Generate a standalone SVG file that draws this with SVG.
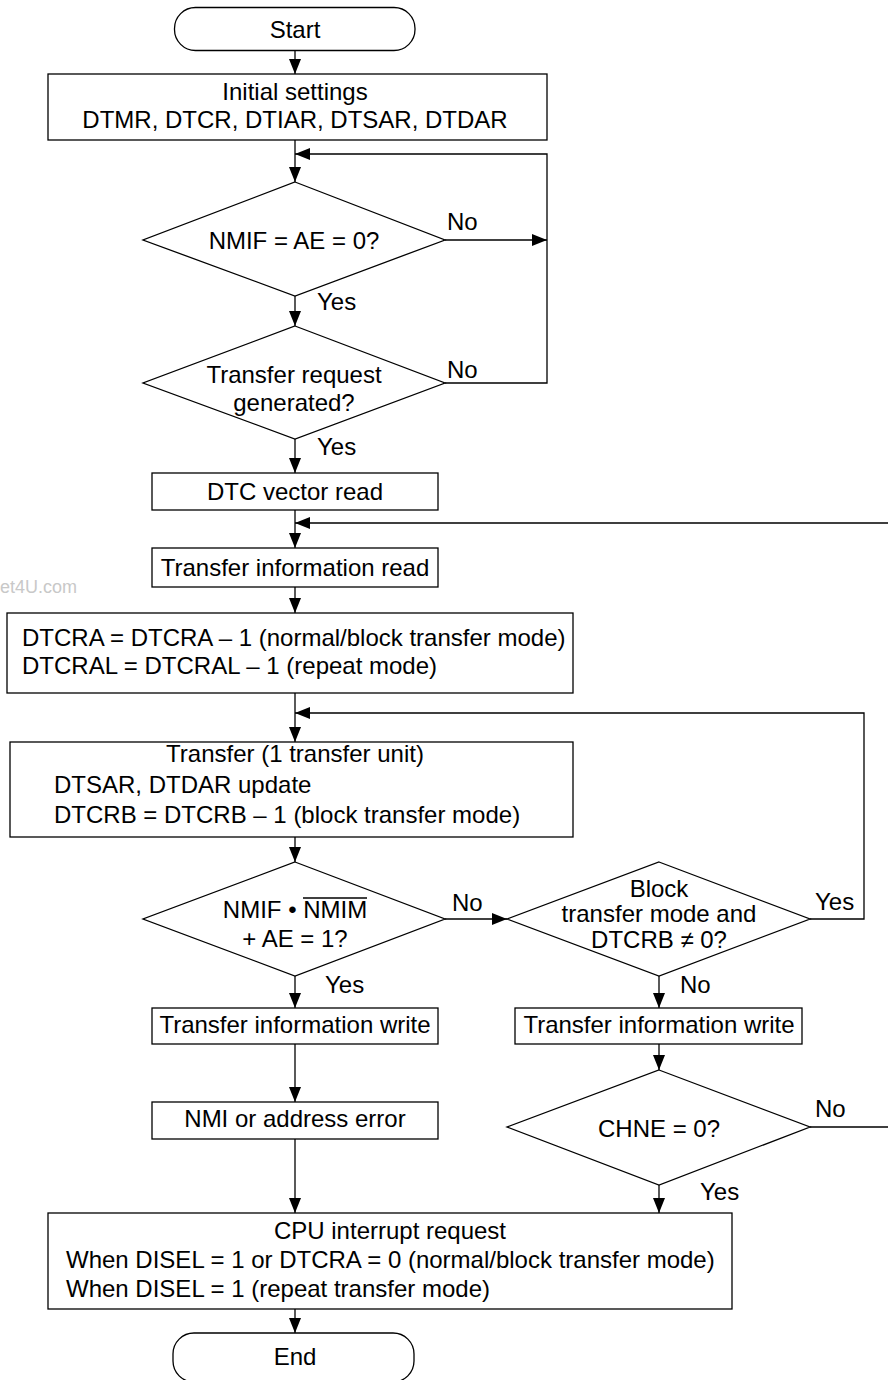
<svg xmlns="http://www.w3.org/2000/svg" width="888" height="1380" viewBox="0 0 888 1380">
<style>
.s{fill:#fff;stroke:#000;stroke-width:1.3}
.c{fill:none;stroke:#000;stroke-width:1.3}
text{font-family:"Liberation Sans",Arial,sans-serif;font-size:24px;fill:#000}
.m{text-anchor:middle}
.wm{font-size:18px;fill:#c8c8c8}
</style>
<defs>
<marker id="ah" markerUnits="userSpaceOnUse" markerWidth="15" markerHeight="12" refX="15" refY="6" orient="auto">
<path d="M0,0 L15,6 L0,12 z" fill="#000"/>
</marker>
</defs>
<rect width="888" height="1380" fill="#fff"/>
<text class="wm" x="0" y="593">et4U.com</text>
<g id="connectors">
<line class="c" x1="295" y1="51" x2="295" y2="74" marker-end="url(#ah)"/>
<line class="c" x1="295" y1="140" x2="295" y2="182" marker-end="url(#ah)"/>
<line class="c" x1="445" y1="240" x2="547" y2="240" marker-end="url(#ah)"/>
<polyline class="c" points="445,383 547,383 547,154 295,154" marker-end="url(#ah)"/>
<line class="c" x1="295" y1="296" x2="295" y2="326" marker-end="url(#ah)"/>
<line class="c" x1="295" y1="439" x2="295" y2="473" marker-end="url(#ah)"/>
<line class="c" x1="295" y1="510" x2="295" y2="548" marker-end="url(#ah)"/>
<polyline class="c" points="810,1127 892,1127 892,523 295,523" marker-end="url(#ah)"/>
<line class="c" x1="295" y1="587" x2="295" y2="613" marker-end="url(#ah)"/>
<line class="c" x1="295" y1="693" x2="295" y2="742" marker-end="url(#ah)"/>
<polyline class="c" points="810,919 864,919 864,713 295,713" marker-end="url(#ah)"/>
<line class="c" x1="295" y1="837" x2="295" y2="862" marker-end="url(#ah)"/>
<line class="c" x1="445" y1="919" x2="507" y2="919" marker-end="url(#ah)"/>
<line class="c" x1="295" y1="976" x2="295" y2="1008" marker-end="url(#ah)"/>
<line class="c" x1="295" y1="1044" x2="295" y2="1102" marker-end="url(#ah)"/>
<line class="c" x1="295" y1="1139" x2="295" y2="1213" marker-end="url(#ah)"/>
<line class="c" x1="659" y1="976" x2="659" y2="1008" marker-end="url(#ah)"/>
<line class="c" x1="659" y1="1044" x2="659" y2="1070" marker-end="url(#ah)"/>
<line class="c" x1="659" y1="1185" x2="659" y2="1213" marker-end="url(#ah)"/>
<line class="c" x1="295" y1="1309" x2="295" y2="1333" marker-end="url(#ah)"/>
<text x="447" y="230">No</text>
<text x="317" y="310">Yes</text>
<text x="447" y="378">No</text>
<text x="317" y="455">Yes</text>
<text x="452" y="911">No</text>
<text x="815" y="910">Yes</text>
<text x="325" y="993">Yes</text>
<text x="680" y="993">No</text>
<text x="815" y="1117">No</text>
<text x="700" y="1200">Yes</text>
</g>
<g id="start">
<rect class="s" x="174.5" y="7.5" width="240.5" height="43" rx="21"/>
<text class="m" x="295" y="38">Start</text>
</g>
<g id="init">
<rect class="s" x="48" y="74" width="499" height="66"/>
<text class="m" x="295" y="100">Initial settings</text>
<text class="m" x="295" y="128">DTMR, DTCR, DTIAR, DTSAR, DTDAR</text>
</g>
<g id="dec1">
<polygon class="s" points="295,182 445,240 295,296 143,240"/>
<text class="m" x="294" y="249">NMIF = AE = 0?</text>
</g>
<g id="dec2">
<polygon class="s" points="295,326 445,383 295,439 143,383"/>
<text class="m" x="294" y="383">Transfer request</text>
<text class="m" x="294" y="411">generated?</text>
</g>
<g id="vecread">
<rect class="s" x="152" y="473" width="286" height="37"/>
<text class="m" x="295" y="500">DTC vector read</text>
</g>
<g id="inforead">
<rect class="s" x="152" y="548" width="286" height="39"/>
<text class="m" x="295" y="576">Transfer information read</text>
</g>
<g id="dec-count">
<rect class="s" x="7" y="613" width="566" height="80"/>
<text x="22" y="646">DTCRA = DTCRA – 1 (normal/block transfer mode)</text>
<text x="22" y="674">DTCRAL = DTCRAL – 1 (repeat mode)</text>
</g>
<g id="transfer">
<rect class="s" x="10" y="742" width="563" height="95"/>
<text class="m" x="295" y="762">Transfer (1 transfer unit)</text>
<text x="54" y="793">DTSAR, DTDAR update</text>
<text x="54" y="823">DTCRB = DTCRB – 1 (block transfer mode)</text>
</g>
<g id="dec3">
<polygon class="s" points="295,862 445,919 295,976 143,919"/>
<text class="m" x="295" y="918">NMIF • NMIM</text>
<line x1="303" y1="898" x2="367" y2="898" stroke="#000" stroke-width="1.3"/>
<text class="m" x="295" y="947">+ AE = 1?</text>
</g>
<g id="dec4">
<polygon class="s" points="659,862 810,919 659,976 507,919"/>
<text class="m" x="659" y="897">Block</text>
<text class="m" x="659" y="922">transfer mode and</text>
<text class="m" x="659" y="948">DTCRB ≠ 0?</text>
</g>
<g id="infowrite1">
<rect class="s" x="152" y="1008" width="286" height="36"/>
<text class="m" x="295" y="1033">Transfer information write</text>
</g>
<g id="infowrite2">
<rect class="s" x="515" y="1008" width="287" height="36"/>
<text class="m" x="659" y="1033">Transfer information write</text>
</g>
<g id="nmi">
<rect class="s" x="152" y="1102" width="286" height="37"/>
<text class="m" x="295" y="1127">NMI or address error</text>
</g>
<g id="dec5">
<polygon class="s" points="659,1070 810,1127 659,1185 507,1127"/>
<text class="m" x="659" y="1137">CHNE = 0?</text>
</g>
<g id="cpu">
<rect class="s" x="48" y="1213" width="684" height="96"/>
<text class="m" x="390" y="1239">CPU interrupt request</text>
<text x="66" y="1268">When DISEL = 1 or DTCRA = 0 (normal/block transfer mode)</text>
<text x="66" y="1297">When DISEL = 1 (repeat transfer mode)</text>
</g>
<g id="end">
<rect class="s" x="173" y="1333" width="241" height="49" rx="21"/>
<text class="m" x="295" y="1365">End</text>
</g>
</svg>
